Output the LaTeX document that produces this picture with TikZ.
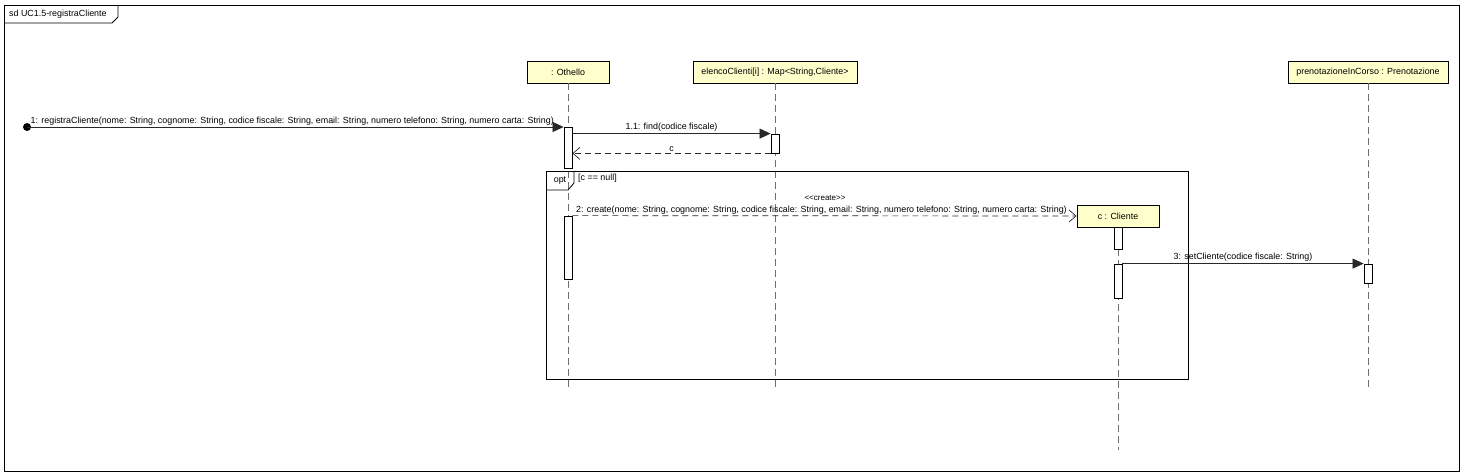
\documentclass[tikz,border=0pt]{standalone}
\usepackage{fontspec}
\setmainfont{Liberation Sans}
\usetikzlibrary{arrows.meta}
\definecolor{headfill}{RGB}{255,255,204}
\definecolor{lifegray}{RGB}{110,110,110}
\definecolor{msgcol}{RGB}{40,40,40}
\begin{document}
\begin{tikzpicture}[x=1pt,y=-1pt,
  font=\fontsize{8.9}{10}\selectfont,
  head/.style={draw=black, line width=0.9pt, fill=headfill, minimum height=22pt, inner sep=0pt},
  act/.style={draw=black, line width=0.8pt, fill=white, minimum width=8pt, inner sep=0pt},
  life/.style={draw=lifegray, line width=0.8pt, dash pattern=on 7pt off 4pt},
  frm/.style={draw=black, line width=1pt},
  syncmsg/.style={draw=msgcol, line width=0.7pt, -{Triangle[length=11pt,width=10pt]}},
  retmsg/.style={draw=msgcol, line width=0.7pt, dash pattern=on 6pt off 4pt, -{Straight Barb[length=7pt,width=12pt,line width=0.7pt]}},
  lbl/.style={inner sep=1.5pt}]
\useasboundingbox (0,0) rectangle (1468,475);
% outer frame
\draw[frm] (4,5) rectangle (1459,471);
\draw[frm, line width=0.8pt] (4,23) -- (112,23) -- (118,17) -- (118,5);
\node[anchor=west, inner sep=0pt] (sdlabel) at (9,14.5) {sd UC1.5-registraCliente};
% lifeline heads
\node[head, minimum width=82pt] (oth) at (568,72) {: Othello};
\node[head, minimum width=164pt] (elc) at (775,72) {elencoClienti[i] : Map<String,Cliente>};
\node[head, minimum width=160pt] (pre) at (1368,72) {prenotazioneInCorso : Prenotazione};
\node[head, minimum width=82pt] (cli) at (1118,216) {c : Cliente};
% lifeline ends
\coordinate (othend) at (568,391);
\coordinate (elcend) at (775,391);
\coordinate (preend) at (1368,391);
\coordinate (cliend) at (1118,450);
\draw[life] (oth.south) -- (othend);
\draw[life] (elc.south) -- (elcend);
\draw[life] (pre.south) -- (preend);
\draw[life] (cli.south) -- (cliend);
% opt fragment
\draw[frm] (546,171) rectangle (1188,379);
\draw[frm, line width=0.8pt] (546,190) -- (568,190) -- (574,183) -- (574,171);
\node[inner sep=0pt] (optlabel) at (560,181) {opt};
\node[anchor=west, inner sep=0pt] (guard) at (578,178) {[c == null]};
% activations
\node[act, minimum height=41pt] (a1) at (568,147.5) {};
\node[act, minimum height=19pt] (e1) at (775,143.5) {};
\node[act, minimum height=63pt] (a2) at (568,247.5) {};
\node[act, minimum height=22pt] (c1) at (1118,238) {};
\node[act, minimum height=34pt] (c2) at (1118,281) {};
\node[act, minimum height=19pt] (p1) at (1368,273.5) {};
% found message start
\node[circle, fill=black, minimum size=8pt, inner sep=0pt] (start) at (27,127) {};
% messages
\draw[syncmsg] (start.center) -- node[lbl, above, xshift=-3pt] (m1) {1: registraCliente(nome: String, cognome: String, codice fiscale: String, email: String, numero telefono: String, numero carta: String)} (a1.west |- start);
\draw[syncmsg] (a1.east |- e1.north) -- node[lbl, above] (m11) {1.1: find(codice fiscale)} (e1.north west);
\draw[retmsg] (e1.south west) -- node[lbl, above] (mc) {c} (a1.east |- e1.south);
\draw[retmsg] (a2.north east) -- node[lbl, above, xshift=-3pt] (m2) {2: create(nome: String, cognome: String, codice fiscale: String, email: String, numero telefono: String, numero carta: String)} (cli.west);
\node[inner sep=0pt, font=\fontsize{8}{9}\selectfont] (stereo) at (825,198) {<\kern0pt<create>\kern0pt>};
\draw[syncmsg] (c2.north east) -- node[lbl, above] (m3) {3: setCliente(codice fiscale: String)} (p1.north west);
\end{tikzpicture}
\end{document}
